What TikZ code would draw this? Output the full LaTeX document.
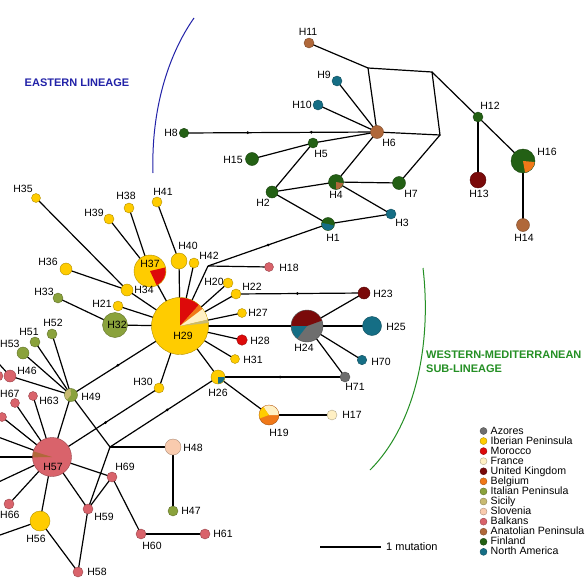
\documentclass[tikz,border=0pt]{standalone}
\usepackage{fontspec}
\setmainfont{Liberation Sans}
\pgfdeclarelayer{bg}
\pgfsetlayers{bg,main}
\definecolor{cAzo}{HTML}{6E6E6E}
\definecolor{cIbe}{HTML}{FFCC00}
\definecolor{cMor}{HTML}{DD0A0A}
\definecolor{cFra}{HTML}{FFF0C4}
\definecolor{cUK}{HTML}{7A0A0A}
\definecolor{cBel}{HTML}{F07818}
\definecolor{cIta}{HTML}{8AA23C}
\definecolor{cSic}{HTML}{C8BA72}
\definecolor{cSlo}{HTML}{F9CBAE}
\definecolor{cBal}{HTML}{D9636B}
\definecolor{cAna}{HTML}{B0683A}
\definecolor{cFin}{HTML}{236014}
\definecolor{cNam}{HTML}{156E85}
\definecolor{cEast}{HTML}{2222A8}
\definecolor{cWest}{HTML}{248F24}
\newcommand{\pw}[5]{\fill[#5] (#1.center) -- ++(#3:#2) arc[start angle=#3, end angle=#4, radius=#2] -- cycle;}
\tikzset{
 hap/.style 2 args={circle, inner sep=0pt, minimum size=#1, fill=#2, draw=#2!70!black, line width=0.4pt},
 lab/.style={inner sep=0pt, font=\fontsize{10.5}{12}\selectfont},
 edge/.style={line width=1.2pt, black},
 mut/.style={circle, fill=black, inner sep=0pt, minimum size=3pt},
 legtxt/.style={inner sep=0pt, anchor=west, font=\fontsize{10.6}{11}\selectfont, text height=8pt, text depth=2pt},
 legdot/.style={circle, inner sep=0pt, minimum size=7pt, fill=#1, draw=#1!70!black, line width=0.4pt},
 lintitle/.style={inner sep=0pt, font=\fontsize{11}{13}\selectfont\bfseries},
}
\begin{document}
\begin{tikzpicture}[x=1pt,y=1pt]
\useasboundingbox (0,0) rectangle (586,-586);
\clip (0,0) rectangle (586,-586);
% ---------------- Eastern lineage nodes
\node[hap={10pt}{cAna}] (H11) at (309,-43) {};
\node[hap={10pt}{cNam}] (H9) at (337,-81) {};
\node[hap={10pt}{cNam}] (H10) at (318,-105) {};
\node[hap={13pt}{cAna}] (H6) at (377,-132) {};
\node[hap={10pt}{cFin}] (H5) at (313,-143) {};
\node[hap={15pt}{cFin}] (H4) at (336,-182) {};
\node[hap={13pt}{cFin}] (H7) at (399,-183) {};
\node[hap={10pt}{cNam}] (H3) at (391,-214) {};
\node[hap={13pt}{cFin}] (H1) at (328,-224) {};
\node[hap={10pt}{cFin}] (H12) at (478,-117) {};
\node[hap={16pt}{cUK}] (H13) at (478,-180) {};
\node[hap={24pt}{cFin}] (H16) at (523,-161) {};
\node[hap={13pt}{cAna}] (H14) at (523,-225) {};
\node[hap={9.5pt}{cFin}] (H8) at (184,-133) {};
\node[hap={13pt}{cFin}] (H15) at (252,-159) {};
\node[hap={12pt}{cFin}] (H2) at (272,-192) {};
\coordinate (A) at (368,-68);
\coordinate (B) at (432,-72);
\coordinate (C) at (440,-135);
\coordinate (J1) at (208,-266);
\coordinate (J3) at (110,-447);
% ---------------- Western nodes
\node[hap={9pt}{cIbe}] (H35) at (36,-198) {};
\node[hap={10pt}{cIbe}] (H38) at (129,-208) {};
\node[hap={10pt}{cIbe}] (H41) at (157,-202) {};
\node[hap={10pt}{cIbe}] (H39) at (109,-219) {};
\node[hap={16pt}{cIbe}] (H40) at (179,-261) {};
\node[hap={10pt}{cIbe}] (H42) at (194,-263) {};
\node[hap={32pt}{cIbe}] (H37) at (150,-271) {};
\node[hap={12pt}{cIbe}] (H36) at (66,-269) {};
\node[hap={12pt}{cIbe}] (H34) at (127,-290) {};
\node[hap={10pt}{cIta}] (H33) at (58,-298) {};
\node[hap={10pt}{cIbe}] (H21) at (118,-306) {};
\node[hap={25pt}{cIta}] (H32) at (115,-325) {};
\node[hap={57pt}{cIbe}] (H29) at (180,-326) {};
\node[hap={10pt}{cIbe}] (H20) at (228,-283) {};
\node[hap={10pt}{cIbe}] (H22) at (236,-294) {};
\node[hap={9pt}{cBal}] (H18) at (269,-267) {};
\node[hap={9pt}{cIbe}] (H27) at (242,-313) {};
\node[hap={10.5pt}{cMor}] (H28) at (242,-340) {};
\node[hap={9pt}{cIbe}] (H31) at (235,-359) {};
\node[hap={14pt}{cIbe}] (H26) at (218,-377) {};
\node[hap={10pt}{cIbe}] (H30) at (159,-388) {};
\node[hap={13pt}{cIta}] (H49) at (71,-395) {};
\node[hap={10pt}{cIta}] (H52) at (52,-334) {};
\node[hap={10pt}{cIta}] (H51) at (35,-342) {};
\node[hap={12pt}{cIta}] (H53) at (23,-353) {};
\node[hap={10pt}{cBal}] (X2) at (-2,-376) {};
\node[hap={12pt}{cBal}] (H46) at (10,-376) {};
\node[hap={9pt}{cBal}] (H63) at (33,-396) {};
\node[hap={9pt}{cBal}] (H67) at (15,-403) {};
\node[hap={9pt}{cBal}] (X1) at (2,-417) {};
\node[hap={39pt}{cBal}] (H57) at (52,-457) {};
\node[hap={10pt}{cBal}] (H66) at (9,-504) {};
\node[hap={20pt}{cIbe}] (H56) at (40,-521) {};
\node[hap={10pt}{cBal}] (H58) at (78,-572) {};
\node[hap={10pt}{cBal}] (H59) at (88,-509) {};
\node[hap={10pt}{cBal}] (H69) at (112,-477) {};
\node[hap={10pt}{cBal}] (H60) at (141,-534) {};
\node[hap={10pt}{cBal}] (H61) at (205,-534) {};
\node[hap={16pt}{cSlo}] (H48) at (173,-447) {};
\node[hap={10pt}{cIta}] (H47) at (173,-511) {};
\node[hap={32pt}{cAzo}] (H24) at (307,-326) {};
\node[hap={12pt}{cUK}] (H23) at (364,-293) {};
\node[hap={19pt}{cNam}] (H25) at (372,-326) {};
\node[hap={9.5pt}{cNam}] (H70) at (362,-360) {};
\node[hap={10pt}{cAzo}] (H71) at (345,-377) {};
\node[hap={20pt}{cBel}] (H19) at (269,-415) {};
\node[hap={10pt}{cFra}] (H17) at (332,-415) {};
\coordinate (O1) at (-10,-434);
\coordinate (O2) at (-10,-457);
\coordinate (O3) at (-10,-486);
\coordinate (O4) at (-10,-538.5);
\coordinate (O5) at (-10,-354);
% ---------------- pie wedges
\pw{H4}{7.2}{-90}{-10}{cAna}
\pw{H1}{6.2}{170}{345}{cNam}
\pw{H16}{11.7}{-80}{-5}{cBel}
\pw{H29}{28.2}{48}{90}{cMor}
\pw{H29}{28.2}{37}{48}{cBel}
\pw{H29}{28.2}{13}{37}{cFra}
\pw{H29}{28.2}{6}{13}{cSic}
\pw{H37}{15.7}{-65}{13}{cMor}
\pw{H24}{15.7}{20}{180}{cUK}
\pw{H24}{15.7}{180}{232}{cNam}
\pw{H26}{6.7}{-90}{0}{cNam}
\pw{H19}{9.7}{0}{125}{cFra}
\pw{H19}{9.7}{125}{200}{cIbe}
\pw{H57}{19.2}{163}{181}{cAna}
\pw{H49}{6.2}{95}{230}{cSic}
% ---------------- edges
\begin{pgfonlayer}{bg}
\fill[white] (0,0) rectangle (586,-586);
\clip (0,0) rectangle (586,-586);
\draw[edge] (H11.center) -- (A) -- (B) -- (C) -- (H6.center);
\draw[edge] (A) -- (H6.center);
\draw[edge] (B) -- (H12.center);
\draw[edge] (C) -- (H7.center);
\draw[edge] (H6.center) -- (H9.center);
\draw[edge] (H6.center) -- (H10.center);
\draw[edge] (H8.center) -- node[mut,pos=0.33]{} node[mut,pos=0.66]{} (H6.center);
\draw[edge] (H6.center) -- (H5.center);
\draw[edge] (H6.center) -- (H4.center);
\draw[edge] (H5.center) -- (H15.center);
\draw[edge] (H5.center) -- (H2.center);
\draw[edge] (H2.center) -- (H4.center);
\draw[edge] (H2.center) -- (H1.center);
\draw[edge] (H4.center) -- (H7.center);
\draw[edge] (H4.center) -- (H3.center);
\draw[edge] (H1.center) -- (H3.center);
\draw[edge] (H12.center) -- (H13.center);
\draw[edge] (H12.center) -- (H16.center);
\draw[edge] (H16.center) -- (H14.center);
\draw[edge] (J1) -- node[mut,pos=0.5]{} (H1.center);
\draw[edge] (J1) -- (H18.center);
\draw[edge] (J1) -- (H29.center);
\draw[edge] (H29.center) -- (H37.center);
\draw[edge] (H37.center) -- (H39.center);
\draw[edge] (H37.center) -- (H38.center);
\draw[edge] (H41.center) -- (H40.center);
\draw[edge] (H40.center) -- (H29.center);
\draw[edge] (H42.center) -- (H29.center);
\draw[edge] (H29.center) -- (H34.center);
\draw[edge] (H34.center) -- (H35.center);
\draw[edge] (H34.center) -- (H36.center);
\draw[edge] (H29.center) -- (H21.center);
\draw[edge] (H29.center) -- (H32.center);
\draw[edge] (H32.center) -- (H33.center);
\draw[edge] (H29.center) -- (H20.center);
\draw[edge] (H29.center) -- (H22.center);
\draw[edge] (H22.center) -- node[mut,pos=0.48]{} (H23.center);
\draw[edge] (H29.center) -- (H27.center);
\draw[edge] (H29.center) -- (H24.center);
\draw[edge] (H29.center) -- (H28.center);
\draw[edge] (H29.center) -- (H31.center);
\draw[edge] (H29.center) -- (H26.center);
\draw[edge] (H29.center) -- (H30.center);
\draw[edge] (H49.center) -- node[mut,pos=0.43]{} (H29.center);
\draw[edge] (H24.center) -- (H23.center);
\draw[edge] (H24.center) -- (H25.center);
\draw[edge] (H24.center) -- (H70.center);
\draw[edge] (H24.center) -- (H71.center);
\draw[edge] (H26.center) -- node[mut,pos=0.49]{} (H71.center);
\draw[edge] (H26.center) -- (H19.center);
\draw[edge] (H19.center) -- (H17.center);
\draw[edge] (J3) -- node[mut,pos=0.53]{} (H26.center);
\draw[edge] (H49.center) -- (J3);
\draw[edge] (J3) -- (H48.center);
\draw[edge] (H48.center) -- (H47.center);
\draw[edge] (J3) -- (H59.center);
\draw[edge] (H49.center) -- (H57.center);
\draw[edge] (H49.center) -- (H52.center);
\draw[edge] (H49.center) -- (H51.center);
\draw[edge] (H49.center) -- (H53.center);
\draw[edge] (H49.center) -- (H46.center);
\draw[edge] (H46.center) -- (O5);
\draw[edge] (H57.center) -- node[mut,pos=0.5]{} (H30.center);
\draw[edge] (H57.center) -- (H63.center);
\draw[edge] (H57.center) -- (H67.center);
\draw[edge] (H57.center) -- (X1.center);
\draw[edge] (H57.center) -- (O1);
\draw[edge] (H57.center) -- (O2);
\draw[edge] (H57.center) -- (O3);
\draw[edge] (H57.center) -- (H66.center);
\draw[edge] (H57.center) -- (H56.center);
\draw[edge] (H57.center) -- (H59.center);
\draw[edge] (H57.center) -- (H69.center);
\draw[edge] (H59.center) -- (H69.center);
\draw[edge] (H69.center) -- (H60.center);
\draw[edge] (H60.center) -- (H61.center);
\draw[edge] (H59.center) -- (H58.center);
\draw[edge] (H56.center) -- (H58.center);
\draw[edge] (H56.center) -- (O4);
\end{pgfonlayer}
% ---------------- labels
\node[lab] (lH11) at (308,-32) {H11};
\node[lab] (lH9) at (324,-75) {H9};
\node[lab] (lH10) at (302,-105) {H10};
\node[lab] (lH6) at (389,-143) {H6};
\node[lab] (lH5) at (321,-154) {H5};
\node[lab] (lH4) at (336,-195) {H4};
\node[lab] (lH7) at (411,-194) {H7};
\node[lab] (lH3) at (402,-223) {H3};
\node[lab] (lH1) at (333,-238) {H1};
\node[lab] (lH12) at (490,-106) {H12};
\node[lab] (lH13) at (479,-194) {H13};
\node[lab] (lH16) at (547,-152) {H16};
\node[lab] (lH14) at (524,-238) {H14};
\node[lab] (lH8) at (171,-133) {H8};
\node[lab] (lH15) at (233,-160) {H15};
\node[lab] (lH2) at (263,-203) {H2};
\node[lab] (lH35) at (23,-189) {H35};
\node[lab] (lH38) at (126,-196) {H38};
\node[lab] (lH41) at (163,-192) {H41};
\node[lab] (lH39) at (94,-213) {H39};
\node[lab] (lH40) at (188,-246) {H40};
\node[lab] (lH42) at (209,-256) {H42};
\node[lab] (lH37) at (150,-264) {H37};
\node[lab] (lH36) at (48,-262) {H36};
\node[lab] (lH34) at (144,-290) {H34};
\node[lab] (lH33) at (44,-292) {H33};
\node[lab] (lH21) at (102,-304) {H21};
\node[lab] (lH32) at (117,-325) {H32};
\node[lab] (lH29) at (183,-336) {H29};
\node[lab] (lH20) at (214,-282) {H20};
\node[lab] (lH22) at (252,-287) {H22};
\node[lab] (lH18) at (289,-268) {H18};
\node[lab] (lH27) at (258,-313) {H27};
\node[lab] (lH28) at (260,-341) {H28};
\node[lab] (lH31) at (253,-360) {H31};
\node[lab] (lH26) at (218,-393) {H26};
\node[lab] (lH30) at (143,-382) {H30};
\node[lab] (lH49) at (91,-397) {H49};
\node[lab] (lH52) at (53,-323) {H52};
\node[lab] (lH51) at (29,-332) {H51};
\node[lab, anchor=west] (lH53) at (0,-344) {H53};
\node[lab] (lH46) at (27,-371) {H46};
\node[lab] (lH63) at (49,-401) {H63};
\node[lab, anchor=west] (lH67) at (0,-394) {H67};
\node[lab] (lH57) at (53,-467) {H57};
\node[lab, anchor=west] (lH66) at (0,-515) {H66};
\node[lab] (lH56) at (36,-539) {H56};
\node[lab] (lH58) at (97,-572) {H58};
\node[lab] (lH59) at (104,-517) {H59};
\node[lab] (lH69) at (125,-467) {H69};
\node[lab] (lH60) at (152,-546) {H60};
\node[lab] (lH61) at (223,-534) {H61};
\node[lab] (lH48) at (193,-448) {H48};
\node[lab] (lH47) at (191,-511) {H47};
\node[lab] (lH24) at (304,-348) {H24};
\node[lab] (lH23) at (383,-294) {H23};
\node[lab] (lH25) at (396,-327) {H25};
\node[lab] (lH70) at (381,-362) {H70};
\node[lab] (lH71) at (355,-387) {H71};
\node[lab] (lH19) at (279,-433) {H19};
\node[lab] (lH17) at (352,-415) {H17};
% ---------------- lineage arcs and titles
\coordinate (ea1) at (194,-18);
\coordinate (ea2) at (153,-173);
\draw[cEast, line width=1pt] (ea1) .. controls (168,-55) and (151,-110) .. (ea2);
\node[lintitle, text=cEast] (east) at (77,-83) {EASTERN LINEAGE};
\coordinate (wa1) at (423,-268);
\coordinate (wa2) at (370,-470);
\draw[cWest, line width=1pt] (wa1) .. controls (432,-345) and (415,-425) .. (wa2);
\node[lintitle, text=cWest, anchor=west] (west1) at (426,-355) {WESTERN-MEDITERRANEAN};
\node[lintitle, text=cWest, anchor=west] (west2) at (426,-369) {SUB-LINEAGE};
% ---------------- scale bar
\coordinate (sb1) at (320,-547);
\coordinate (sb2) at (381,-547);
\draw[line width=1.2pt] (sb1) -- (sb2);
\node[legtxt, font=\fontsize{11}{11}\selectfont] (sbt) at (386,-547) {1 mutation};
% ---------------- legend
\foreach \c/\t [count=\i from 0] in {cAzo/Azores, cIbe/Iberian Peninsula, cMor/Morocco, cFra/France, cUK/United Kingdom, cBel/Belgium, cIta/Italian Peninsula, cSic/Sicily, cSlo/Slovenia, cBal/Balkans, cAna/Anatolian Peninsula, cFin/Finland, cNam/North America}{
  \node[legdot=\c] (ld\i) at (483.5,{-431-10.07*\i}) {};
  \node[legtxt] (lt\i) at (490.5,{-431-10.07*\i}) {\t};
}
\end{tikzpicture}
\end{document}
